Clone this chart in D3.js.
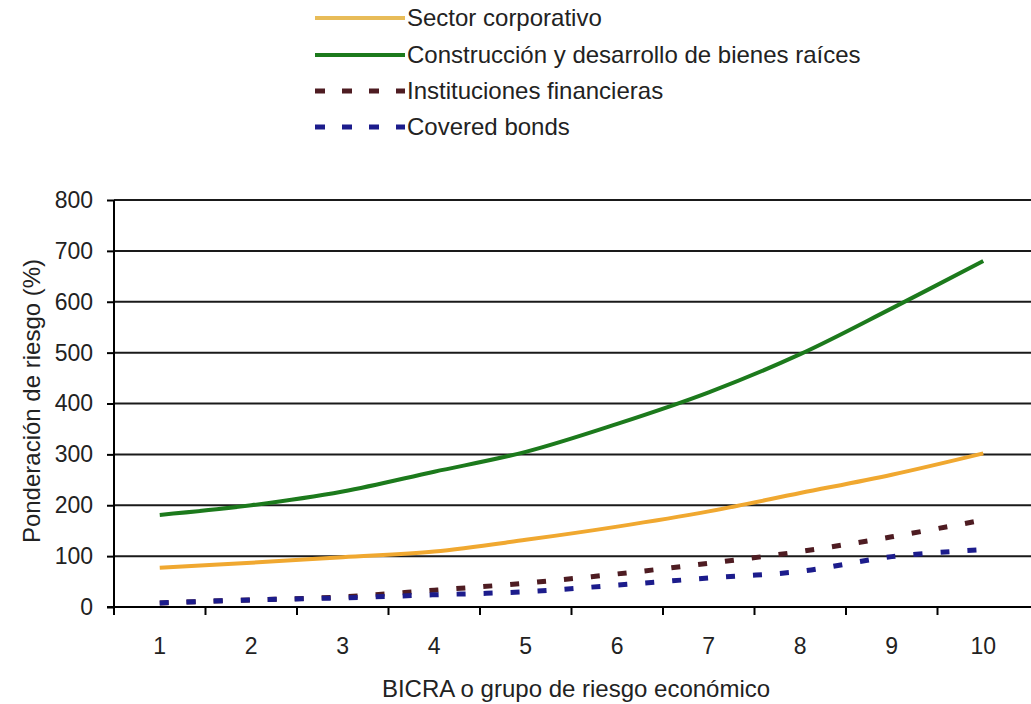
<!DOCTYPE html>
<html>
<head>
<meta charset="utf-8">
<script src="https://cdn.jsdelivr.net/npm/d3@7"></script>
<style>
  html, body { margin: 0; padding: 0; background: #fff; }
  svg { display: block; font-family: "Liberation Sans", Arial, sans-serif; }
</style>
</head>
<body>
<svg id="chart" width="1031" height="704"></svg>
<script>
// BICRA groups on the x axis
const categories = ["1", "2", "3", "4", "5", "6", "7", "8", "9", "10"];

// Risk weights (%) per series
const sectorCorporativo = [77, 87, 98, 109, 132, 158, 188, 224, 260, 302];
const construccion      = [181, 200, 227, 266, 305, 360, 422, 497, 587, 680];
const instituciones     = [8, 14, 20, 33, 47, 65, 86, 109, 138, 171];
const coveredBonds      = [8, 14, 18, 24, 30, 43, 57, 70, 99, 113];

const yTicks = [0, 100, 200, 300, 400, 500, 600, 700, 800];

const seriesNames = [
  "Sector corporativo",
  "Construcción y desarrollo de bienes raíces",
  "Instituciones financieras",
  "Covered bonds"
];

const series = [
  { name: seriesNames[0], values: sectorCorporativo, color: "#f0a830", dash: null },
  { name: seriesNames[1], values: construccion,      color: "#1c7a1c", dash: null },
  { name: seriesNames[2], values: instituciones,     color: "#4e1c22", dash: "9,18" },
  { name: seriesNames[3], values: coveredBonds,      color: "#1c1c8c", dash: "9,18" }
];

const svg = d3.select("#chart");
const plotLeft = 114, plotRight = 1029, plotTop = 200, plotBottom = 607;
const textColor = "#222";

const x = d3.scaleBand().domain(categories).range([plotLeft, plotRight]).padding(0);
const y = d3.scaleLinear().domain([0, 800]).range([plotBottom, plotTop]);

// horizontal gridlines
svg.append("g")
  .selectAll("line")
  .data(yTicks.filter(d => d > 0))
  .join("line")
  .attr("x1", plotLeft).attr("x2", 1031)
  .attr("y1", d => y(d)).attr("y2", d => y(d))
  .attr("stroke", "#1a1a1a").attr("stroke-width", 2);

// y axis
const yAxis = d3.axisLeft(y).tickValues(yTicks).tickSize(7).tickPadding(14);
const gy = svg.append("g").attr("transform", `translate(${plotLeft},0)`).call(yAxis);
gy.select(".domain").attr("stroke", "#000").attr("stroke-width", 2)
  .attr("d", `M0,${plotTop}V${plotBottom + 8}`);
gy.selectAll(".tick line").attr("stroke", "#000").attr("stroke-width", 2);
gy.selectAll(".tick text").attr("font-size", 23).attr("fill", textColor)
  .attr("font-family", "Liberation Sans, Arial, sans-serif");

// x axis: ticks sit on band boundaries, labels in band centers
const gx = svg.append("g").attr("transform", `translate(0,${plotBottom})`);
gx.append("line").attr("x1", plotLeft - 7).attr("x2", 1031).attr("y1", 0).attr("y2", 0)
  .attr("stroke", "#000").attr("stroke-width", 2);
gx.selectAll("line.tk")
  .data(categories.slice(1))
  .join("line").attr("class", "tk")
  .attr("x1", d => x(d)).attr("x2", d => x(d))
  .attr("y1", 0).attr("y2", 8)
  .attr("stroke", "#000").attr("stroke-width", 2);
gx.selectAll("text")
  .data(categories)
  .join("text")
  .attr("x", d => x(d) + x.bandwidth() / 2)
  .attr("y", 47)
  .attr("text-anchor", "middle")
  .attr("font-size", 23).attr("fill", textColor)
  .text(d => d);

// axis titles
svg.append("text")
  .attr("x", 576).attr("y", 697)
  .attr("text-anchor", "middle")
  .attr("font-size", 24).attr("fill", textColor)
  .text("BICRA o grupo de riesgo económico");

svg.append("text")
  .attr("transform", "translate(40,401) rotate(-90)")
  .attr("text-anchor", "middle")
  .attr("font-size", 24).attr("fill", textColor)
  .text("Ponderación de riesgo (%)");

// series lines
const line = d3.line()
  .x((d, i) => x(categories[i]) + x.bandwidth() / 2)
  .y(d => y(d))
  .curve(d3.curveCatmullRom);

svg.append("g")
  .selectAll("path")
  .data(series)
  .join("path")
  .attr("d", d => line(d.values))
  .attr("fill", "none")
  .attr("stroke", d => d.color)
  .attr("stroke-width", d => d.dash ? 5 : 4)
  .attr("stroke-dasharray", d => d.dash);

// legend
const legendRows = [18, 55, 91, 127];
const lg = svg.append("g")
  .selectAll("g")
  .data(series)
  .join("g")
  .attr("transform", (d, i) => `translate(0,${legendRows[i]})`);
lg.append("line")
  .attr("x1", 315).attr("x2", 405).attr("y1", 0).attr("y2", 0)
  .attr("stroke", (d, i) => i === 0 ? "#e8bc58" : d.color)
  .attr("stroke-width", d => d.dash ? 5 : 4)
  .attr("stroke-dasharray", d => d.dash ? "10,17" : null);
lg.append("text")
  .attr("x", 407).attr("y", 8)
  .attr("font-size", 24).attr("fill", textColor)
  .text(d => d.name);
</script>
</body>
</html>
